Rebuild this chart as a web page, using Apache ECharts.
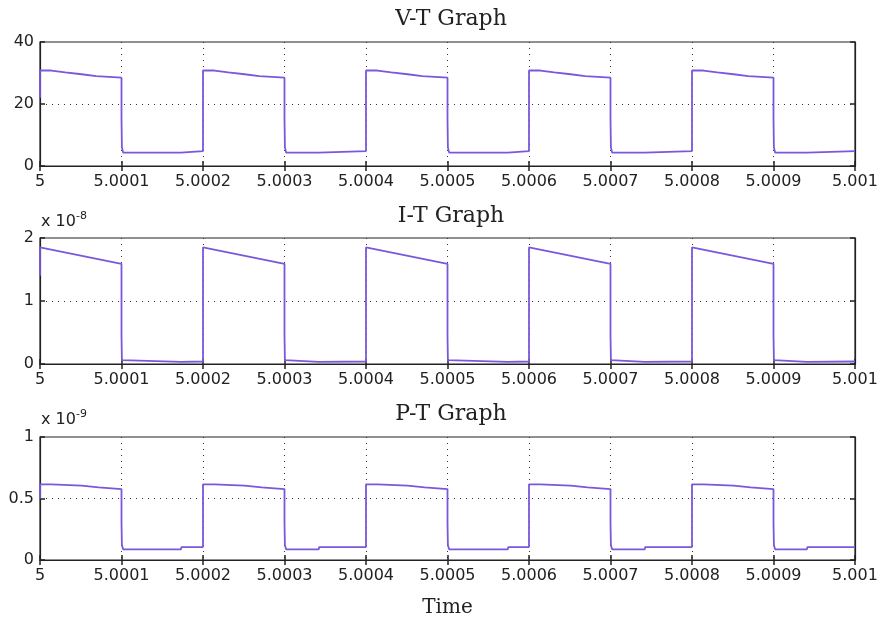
<!DOCTYPE html>
<html>
<head>
<meta charset="utf-8">
<script src="https://cdn.jsdelivr.net/npm/echarts@6/dist/echarts.min.js"></script>
<style>
  html, body { margin: 0; padding: 0; background: #fff; }
  #main { width: 882px; height: 619px; }
</style>
</head>
<body>
<div id="main"></div>
<script>
// pulse timing (s)
const periodStarts = [5, 5.0002, 5.0004, 5.0006, 5.0008]
const halfPeriod = 0.0001
// where the small step in the low level happens (fraction of the low half)
const lowStepAt = [0.73, 0.42, 0.74, 0.42, 0.41]

// high-level shapes: offsets (fraction of the high half) and values
const vHighT = [0, 0.14, 0.16, 0.31, 0.33, 0.51, 0.53, 0.69, 0.71, 1.0]
const vHighV = [30.8, 30.8, 30.2, 30.2, 29.6, 29.6, 29.0, 29.0, 28.5, 28.5]
const iHighT = [0, 1.0]
const iHighV = [1.85, 1.59]
const pHighT = [0, 0.14, 0.16, 0.51, 0.53, 0.72, 0.74, 1.0]
const pHighV = [0.615, 0.615, 0.605, 0.605, 0.59, 0.59, 0.577, 0.577]

// falling edge values, low level [first, after step], start value at t = 5
const vFall = [15, 6]
const vLow = [4.3, 4.8]
const vStart = 22
const iFall = [0.45, 0.06]
const iLow = [0.035, 0.04]
const iStart = 1.4
const pFall = [0.3, 0.12]
const pLow = [0.087, 0.105]
const pStart = 0.5

function buildSeries(highT, highV, fall, low, start) {
  const pts = [[periodStarts[0], start]]
  periodStarts.forEach((t0, k) => {
    highT.forEach((o, j) => pts.push([t0 + o * halfPeriod, highV[j]]))
    const tf = t0 + halfPeriod
    pts.push([tf, fall[0]])
    pts.push([tf + 0.0000005, fall[1]])
    pts.push([tf + 0.000002, low[0]])
    pts.push([tf + lowStepAt[k] * halfPeriod, low[0]])
    pts.push([tf + lowStepAt[k] * halfPeriod + 0.0000005, low[1]])
    pts.push([tf + halfPeriod, low[1]])
  })
  return pts
}

const volts = buildSeries(vHighT, vHighV, vFall, vLow, vStart)
const ampsE8 = buildSeries(iHighT, iHighV, iFall, iLow, iStart)
const wattsE9 = buildSeries(pHighT, pHighV, pFall, pLow, pStart)

const ink = '#222'
const lineColor = '#7a58dc'
const labelFont = { color: ink, fontFamily: 'DejaVu Sans', fontSize: 16 }
const dotted = { color: '#333', type: [1, 5], width: 1 }

const grids = [
  { left: 40, right: 27, top: 42, height: 124 },
  { left: 40, right: 27, top: 238, height: 126 },
  { left: 40, right: 27, top: 437, height: 123 }
].map(g => Object.assign(g, { show: true, borderColor: ink, borderWidth: 1.2, containLabel: false }))

const yRanges = [
  { max: 40, interval: 20 },
  { max: 2, interval: 1 },
  { max: 1, interval: 0.5 }
]

const xAxes = []
const yAxes = []
grids.forEach((g, i) => {
  xAxes.push({
    type: 'value', gridIndex: i, min: 5, max: 5.001, interval: 0.0001,
    axisLine: { lineStyle: { color: ink, width: 1.2 } },
    axisTick: { inside: true, length: 5, lineStyle: { color: ink, width: 1.5 } },
    axisLabel: Object.assign({ margin: 8, formatter: v => String(+v.toFixed(4)) }, labelFont),
    splitLine: { show: true, showMinLine: false, showMaxLine: false, lineStyle: dotted },
    name: i === 2 ? 'Time' : '',
    nameLocation: 'middle', nameGap: 38,
    nameTextStyle: { color: ink, fontFamily: 'DejaVu Serif', fontSize: 20 }
  })
  xAxes.push({
    type: 'value', gridIndex: i, position: 'top', min: 5, max: 5.001, interval: 0.0001,
    axisLine: { lineStyle: { color: ink, width: 1.2 } },
    axisTick: { inside: true, length: 5, lineStyle: { color: ink, width: 1.5 } },
    axisLabel: { show: false }, splitLine: { show: false }
  })
  yAxes.push({
    type: 'value', gridIndex: i, min: 0, max: yRanges[i].max, interval: yRanges[i].interval,
    axisLine: { show: true, lineStyle: { color: ink, width: 1.2 } },
    axisTick: { show: true, inside: true, length: 5, lineStyle: { color: ink, width: 1.5 } },
    axisLabel: Object.assign({ margin: 6 }, labelFont),
    splitLine: { show: true, showMinLine: false, showMaxLine: false, lineStyle: dotted }
  })
  yAxes.push({
    type: 'value', gridIndex: i, position: 'right', min: 0, max: yRanges[i].max, interval: yRanges[i].interval,
    axisLine: { show: true, lineStyle: { color: ink, width: 1.2 } },
    axisTick: { show: true, inside: true, length: 5, lineStyle: { color: ink, width: 1.5 } },
    axisLabel: { show: false }, splitLine: { show: false }
  })
})

const titleFont = { color: ink, fontFamily: 'DejaVu Serif', fontSize: 22, fontWeight: 'normal' }
const expRich = {
  base: { color: ink, fontFamily: 'DejaVu Sans', fontSize: 16, fontWeight: 'normal' },
  sup: { color: ink, fontFamily: 'DejaVu Sans', fontSize: 11, fontWeight: 'normal', verticalAlign: 'top', padding: [0, 0, 10, 0] }
}

const chart = echarts.init(document.getElementById('main'))
chart.setOption({
  animation: false,
  backgroundColor: '#fff',
  title: [
    { text: 'V-T Graph', left: 446, top: 3, textAlign: 'center', textStyle: titleFont },
    { text: 'I-T Graph', left: 446, top: 200, textAlign: 'center', textStyle: titleFont },
    { text: 'P-T Graph', left: 446, top: 398, textAlign: 'center', textStyle: titleFont },
    { text: '{base|x 10}{sup|-8}', left: 36, top: 206, textStyle: { fontWeight: 'normal', rich: expRich } },
    { text: '{base|x 10}{sup|-9}', left: 36, top: 404, textStyle: { fontWeight: 'normal', rich: expRich } }
  ],
  grid: grids,
  xAxis: xAxes,
  yAxis: yAxes,
  series: [
    { type: 'line', xAxisIndex: 0, yAxisIndex: 0, data: volts },
    { type: 'line', xAxisIndex: 2, yAxisIndex: 2, data: ampsE8 },
    { type: 'line', xAxisIndex: 4, yAxisIndex: 4, data: wattsE9 }
  ].map(s => Object.assign(s, {
    showSymbol: false, symbol: 'none',
    lineStyle: { color: lineColor, width: 1.8 }
  }))
})
</script>
</body>
</html>
